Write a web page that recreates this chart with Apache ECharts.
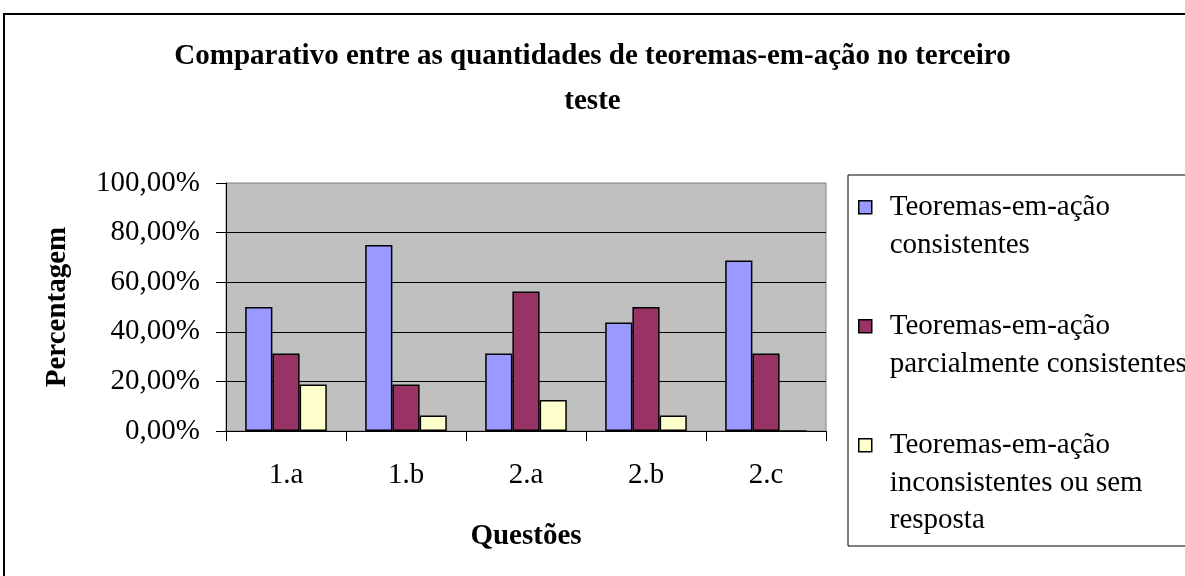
<!DOCTYPE html>
<html>
<head>
<meta charset="utf-8">
<title>Comparativo teoremas-em-ação</title>
<script src="https://cdn.jsdelivr.net/npm/echarts@6/dist/echarts.min.js"></script>
<style>
    html, body { margin: 0; padding: 0; background: #fff; }
    #chart { width: 1185px; height: 576px; }
</style>
</head>
<body>
<div id="chart"></div>
<script>
'use strict';

// dados
var questoes = ['1.a', '1.b', '2.a', '2.b', '2.c'];
var consistentes = [50, 75, 31.25, 43.75, 68.75];
var parciais = [31.25, 18.75, 56.25, 50, 31.25];
var inconsistentes = [18.75, 6.25, 12.5, 6.25, 0];
var nomesSeries = [
    'Teoremas-em-ação consistentes',
    'Teoremas-em-ação parcialmente consistentes',
    'Teoremas-em-ação inconsistentes ou sem resposta'
];
// texto da legenda, quebrado em linhas como no original
var linhasLegenda = [
    ['Teoremas-em-ação', 'consistentes', ' '],
    ['Teoremas-em-ação', 'parcialmente consistentes', ' '],
    ['Teoremas-em-ação', 'inconsistentes ou sem', 'resposta']
];
var yTicks = [0, 20, 40, 60, 80, 100];

var fonte = "'Liberation Serif', 'Times New Roman', serif";
var cores = ['#9999ff', '#993366', '#ffffcc'];

// quadrado da legenda alinhado com a primeira linha do texto
var iconeLegenda = 'path://M0,11.5H13V24.5H0Z M26,0L26,0.01 M26,112L26,112.01';

var chart = echarts.init(document.getElementById('chart'));

function serie(i, valores) {
    return {
        name: nomesSeries[i],
        type: 'bar',
        data: valores,
        barGap: 0,
        barCategoryGap: '32%',
        itemStyle: { color: cores[i], borderColor: '#000', borderWidth: 1.5 },
        emphasis: { disabled: true }
    };
}

var option = {
    animation: false,
    textStyle: { fontFamily: fonte, color: '#000' },
    title: {
        text: 'Comparativo entre as quantidades de teoremas-em-ação no terceiro\nteste',
        left: 'center',
        top: 34,
        padding: 0,
        textStyle: { fontFamily: fonte, fontSize: 29, fontWeight: 'bold', color: '#000', lineHeight: 45, align: 'center' }
    },
    graphic: [{
        type: 'rect',
        shape: { x: 4, y: 14, width: 1300, height: 700 },
        style: { fill: 'none', stroke: '#000', lineWidth: 2 },
        silent: true
    }],
    legend: {
        orient: 'vertical',
        left: 848,
        top: 175,
        padding: [13.5, 12, 6, 10],
        itemGap: 5.5,
        itemWidth: 26,
        itemHeight: 112,
        symbolKeepAspect: false,
        backgroundColor: '#fff',
        borderColor: '#000',
        borderWidth: 1,
        borderRadius: 0,
        selectedMode: false,
        data: nomesSeries.map(function(n) { return { name: n, icon: iconeLegenda }; }),
        itemStyle: { borderColor: '#000', borderWidth: 1.5 },
        formatter: function(name) {
            return linhasLegenda[nomesSeries.indexOf(name)].join('\n');
        },
        textStyle: { fontFamily: fonte, fontSize: 29, color: '#000', lineHeight: 37.5 }
    },
    grid: {
        left: 226,
        right: 359,
        top: 183,
        bottom: 145,
        show: true,
        backgroundColor: '#c0c0c0',
        borderColor: '#808080',
        borderWidth: 1
    },
    xAxis: {
        type: 'category',
        data: questoes,
        name: 'Questões',
        nameLocation: 'middle',
        nameGap: 91,
        nameTextStyle: { fontFamily: fonte, fontSize: 29, fontWeight: 'bold', color: '#000' },
        axisLine: { lineStyle: { color: '#000', width: 1 } },
        axisTick: { show: true, length: 10, lineStyle: { color: '#000' } },
        axisLabel: { margin: 30, fontFamily: fonte, fontSize: 29, color: '#000' }
    },
    yAxis: {
        type: 'value',
        min: yTicks[0],
        max: yTicks[yTicks.length - 1],
        interval: yTicks[1] - yTicks[0],
        name: 'Percentagem',
        nameLocation: 'middle',
        nameGap: 154,
        nameTextStyle: { fontFamily: fonte, fontSize: 29, fontWeight: 'bold', color: '#000' },
        axisLine: { show: true, lineStyle: { color: '#000', width: 1 } },
        axisTick: { show: true, length: 10, lineStyle: { color: '#000' } },
        axisLabel: {
            margin: 26,
            fontFamily: fonte,
            fontSize: 29,
            color: '#000',
            formatter: function(v) { return v.toFixed(2).replace('.', ',') + '%'; }
        },
        splitLine: { show: true, showMaxLine: false, lineStyle: { color: '#000', width: 1 } }
    },
    series: [
        serie(0, consistentes),
        serie(1, parciais),
        serie(2, inconsistentes)
    ]
};

chart.setOption(option);
</script>
</body>
</html>
